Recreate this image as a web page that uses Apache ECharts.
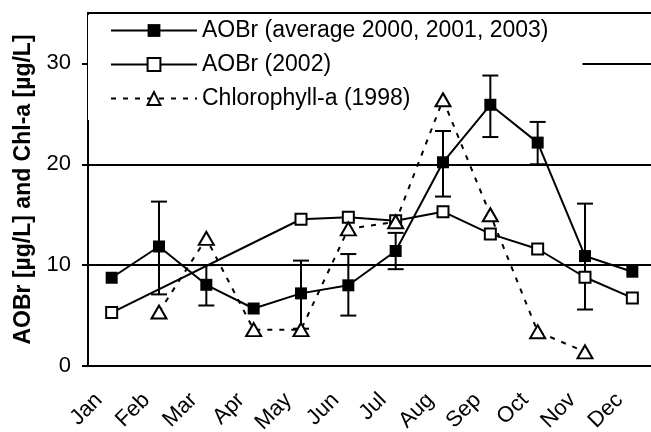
<!DOCTYPE html>
<html>
<head>
<meta charset="utf-8">
<script src="https://cdn.jsdelivr.net/npm/echarts@6/dist/echarts.min.js"></script>
<style>
html, body { margin: 0; padding: 0; background: #fff; }
#chart { width: 651px; height: 432px; }
</style>
</head>
<body>
<div id="chart"></div>
<script>
const months = ["Jan", "Feb", "Mar", "Apr", "May", "Jun", "Jul", "Aug", "Sep", "Oct", "Nov", "Dec"];
const aobrAvg = [8.75, 11.85, 8.05, 5.7, 7.2, 8.0, 11.4, 20.2, 25.9, 22.15, 10.9, 9.35];
const aobrAvgLow = [null, 7.1, 6.0, null, 3.7, 5.0, 9.6, 16.8, 22.7, 20.0, 5.6, null];
const aobrAvgHigh = [null, 16.3, 10.0, null, 10.45, 11.1, 13.2, 23.3, 28.8, 24.2, 16.1, null];
const aobr2002 = [5.3, null, null, null, 14.55, 14.75, 14.4, 15.3, 13.1, 11.6, 8.8, 6.75];
const chla1998 = [null, 5.35, 12.65, 3.6, 3.6, 13.6, 14.3, 26.4, 15.0, 3.4, 1.4, null];
const yTicks = [0, 10, 20, 30];
const names = ["AOBr (average 2000, 2001, 2003)", "AOBr (2002)", "Chlorophyll-a (1998)"];

const font = "Liberation Sans";
const black = { color: "#000", width: 2 };

// error bars for the average series
const errData = [];
months.forEach((m, i) => {
  if (aobrAvgLow[i] != null) errData.push([i, aobrAvgLow[i], aobrAvgHigh[i]]);
});

function renderErr(params, api) {
  const lo = api.coord([api.value(0), api.value(1)]);
  const hi = api.coord([api.value(0), api.value(2)]);
  const w = 8;
  const style = { stroke: "#000", lineWidth: 2 };
  return {
    type: "group",
    children: [
      { type: "line", shape: { x1: lo[0], y1: lo[1], x2: hi[0], y2: hi[1] }, style: style },
      { type: "line", shape: { x1: lo[0] - w, y1: lo[1], x2: lo[0] + w, y2: lo[1] }, style: style },
      { type: "line", shape: { x1: hi[0] - w, y1: hi[1], x2: hi[0] + w, y2: hi[1] }, style: style }
    ]
  };
}

const chart = echarts.init(document.getElementById("chart"));
chart.setOption({
  animation: false,
  backgroundColor: "#fff",
  textStyle: { fontFamily: font, color: "#000" },
  grid: {
    left: 88, top: 13, right: -5, bottom: 66,
    show: true, borderColor: "#000", borderWidth: 2,
    outerBoundsMode: "none"
  },
  legend: {
    orient: "vertical",
    left: 88, top: 15,
    padding: [4, 34, 10, 22],
    backgroundColor: "#fff",
    itemWidth: 86, itemHeight: 16, itemGap: 11,
    z: 1,
    selectedMode: false,
    data: names,
    textStyle: { fontFamily: font, fontSize: 23, color: "#000" }
  },
  xAxis: {
    type: "category",
    data: months,
    boundaryGap: true,
    axisLine: { lineStyle: black },
    axisTick: { length: 7, lineStyle: black },
    axisLabel: {
      rotate: 45, interval: 0, margin: 18, padding: [0, 18, 0, 0],
      fontFamily: font, fontSize: 22, color: "#000"
    },
    splitLine: { show: false }
  },
  yAxis: {
    type: "value",
    min: 0, max: 35, interval: 10,
    name: "AOBr [µg/L] and Chl-a [µg/L]",
    nameLocation: "middle",
    nameGap: 53,
    nameTextStyle: { fontFamily: font, fontWeight: "bold", fontSize: 23, color: "#000" },
    axisLine: { show: true, lineStyle: black },
    axisTick: { show: true, length: 6, lineStyle: black, customValues: yTicks },
    axisLabel: { margin: 17, fontFamily: font, fontSize: 22, color: "#000", customValues: yTicks },
    splitLine: { show: true, lineStyle: black }
  },
  series: [
    {
      name: names[0],
      type: "line",
      data: aobrAvg,
      symbol: "rect",
      symbolSize: 12,
      itemStyle: { color: "#000" },
      lineStyle: black,
      z: 4
    },
    {
      name: names[1],
      type: "line",
      data: aobr2002,
      connectNulls: true,
      symbol: "rect",
      symbolSize: 11,
      itemStyle: { color: "#fff", borderColor: "#000", borderWidth: 2 },
      lineStyle: black,
      z: 3
    },
    {
      name: names[2],
      type: "line",
      data: chla1998,
      symbol: "triangle",
      symbolSize: [15, 13],
      itemStyle: { color: "#fff", borderColor: "#000", borderWidth: 2 },
      lineStyle: { color: "#000", width: 2, type: [5, 7] },
      z: 3
    },
    {
      type: "custom",
      data: errData,
      renderItem: renderErr,
      encode: { x: 0, y: [1, 2] },
      z: 3
    }
  ]
});
</script>
</body>
</html>
